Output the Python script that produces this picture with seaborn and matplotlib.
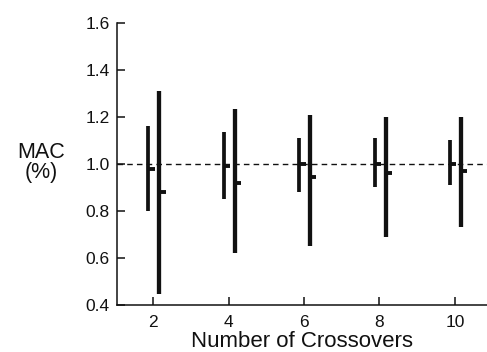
import matplotlib
matplotlib.use("Agg")
import matplotlib.pyplot as plt
import seaborn as sns
import pandas as pd

# values
crossovers = [2, 4, 6, 8, 10]
a_low = [0.80, 0.85, 0.88, 0.90, 0.91]
a_mean = [0.98, 0.99, 1.00, 1.00, 1.00]
a_high = [1.16, 1.135, 1.11, 1.11, 1.10]
b_low = [0.445, 0.62, 0.65, 0.69, 0.73]
b_mean = [0.88, 0.92, 0.945, 0.96, 0.97]
b_high = [1.31, 1.235, 1.21, 1.20, 1.20]
y_ticks = [0.4, 0.6, 0.8, 1.0, 1.2, 1.4, 1.6]

df = pd.DataFrame({
    "n": crossovers,
    "a_low": a_low, "a_mean": a_mean, "a_high": a_high,
    "b_low": b_low, "b_mean": b_mean, "b_high": b_high,
})

sns.set_style("ticks")
plt.rcParams["font.family"] = ["Liberation Sans", "DejaVu Sans"]

fig = plt.figure(figsize=(4.87, 3.52), dpi=100)
ax = fig.add_axes([0.240, 0.134, 0.760, 0.801])

ink = "#111111"
off_a, off_b, tick_len = -0.13, 0.16, 0.17

# reference line at 100%
ax.axhline(1.0, color=ink, lw=1.0, ls=(0, (4, 3)), zorder=1)

# narrow range bars with mean tick to the right
ax.vlines(df["n"] + off_a, df["a_low"], df["a_high"], color=ink, lw=2.7, zorder=3)
ax.hlines(df["a_mean"], df["n"] + off_a, df["n"] + off_a + tick_len, color=ink, lw=2.8, zorder=3)

# wide range bars
ax.vlines(df["n"] + off_b, df["b_low"], df["b_high"], color=ink, lw=3.1, zorder=3)
ax.hlines(df["b_mean"], df["n"] + off_b, df["n"] + off_b + tick_len, color=ink, lw=2.8, zorder=3)

ax.set_xlim(1.04, 10.85)
ax.set_ylim(0.4, 1.6)
ax.set_xticks(crossovers)
ax.set_yticks(y_ticks)
ax.set_yticklabels([f"{v:.1f}" for v in y_ticks])
ax.tick_params(axis="both", direction="in", length=6, width=1.1, colors=ink,
               labelsize=12.5)
ax.tick_params(axis="y", pad=5)
ax.tick_params(axis="x", pad=7)

ax.set_xlabel("Number of Crossovers", fontsize=16, color=ink, labelpad=1)
ax.set_ylabel("MAC\n(%)", fontsize=15.5, color=ink, rotation=0,
              ha="center", va="center", linespacing=0.95)
ax.yaxis.set_label_coords(-0.205, 0.505)

sns.despine(ax=ax)
for s in ("left", "bottom"):
    ax.spines[s].set_linewidth(1.1)
    ax.spines[s].set_color(ink)

fig.savefig("out.png", dpi=100)
